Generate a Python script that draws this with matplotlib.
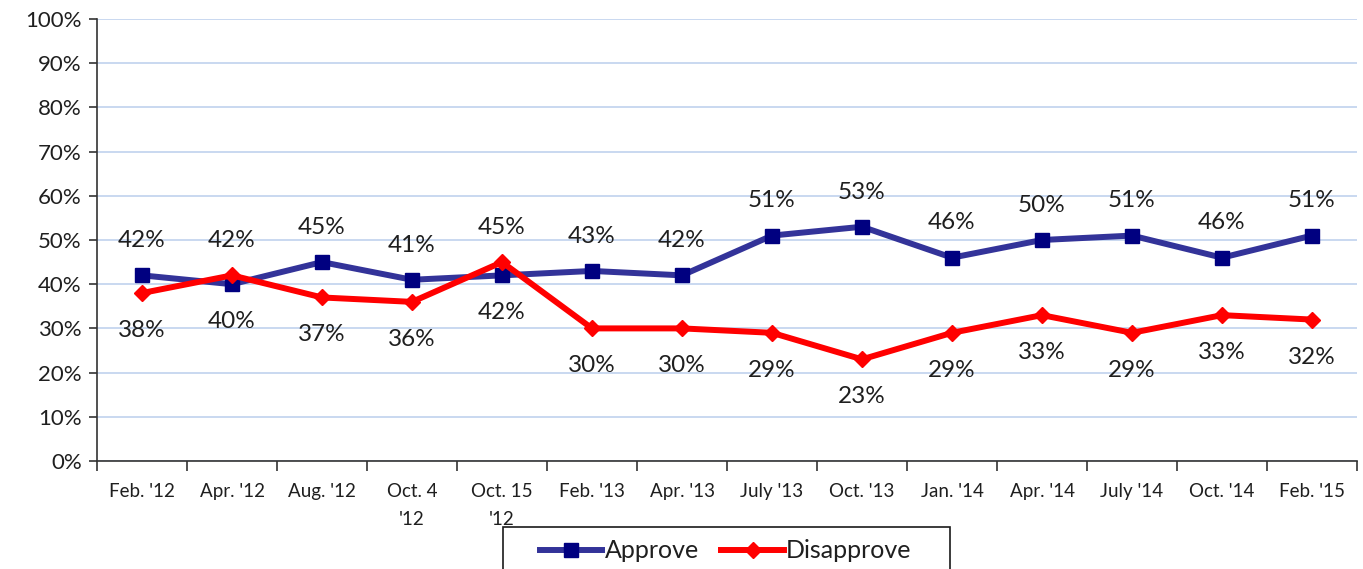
import numpy as np
import matplotlib
matplotlib.use('Agg')
import matplotlib.pyplot as plt
from matplotlib.patches import Rectangle

plt.rcParams['font.family'] = ['Lato', 'DejaVu Sans']

# data ========================================================================
periods = ["Feb. '12", "Apr. '12", "Aug. '12", "Oct. 4\n'12", "Oct. 15\n'12",
           "Feb. '13", "Apr. '13", "July '13", "Oct. '13", "Jan. '14",
           "Apr. '14", "July '14", "Oct. '14", "Feb. '15"]
approve = [42, 40, 45, 41, 42, 43, 42, 51, 53, 46, 50, 51, 46, 51]
disapprove = [38, 42, 37, 36, 45, 30, 30, 29, 23, 29, 33, 29, 33, 32]
y_ticks = [0, 10, 20, 30, 40, 50, 60, 70, 80, 90, 100]

TEXT = '#1f1f1f'
W, H = 1363, 569

fig = plt.figure(figsize=(W / 100, H / 100), dpi=100)
ax = fig.add_axes([97 / W, 1 - 461 / H, (1357 - 97) / W, (461 - 19) / H])

x = np.arange(len(periods))
ax.plot(x, approve, color='#333399', linewidth=4.3, marker='s',
        markersize=10, markerfacecolor='#000080', markeredgecolor='#000080',
        label='Approve', zorder=3)
ax.plot(x, disapprove, color='#ff0000', linewidth=4.3, marker='D',
        markersize=8.5, markerfacecolor='#ff0000', markeredgecolor='#ff0000',
        label='Disapprove', zorder=4)

# data labels: higher value above, lower value below
for i, (a, d) in enumerate(zip(approve, disapprove)):
    hi, lo = (a, d) if a >= d else (d, a)
    ax.annotate(f'{hi}%', (i, hi), xytext=(0, 25), textcoords='offset points',
                ha='center', va='center', fontsize=17.5, color=TEXT)
    ax.annotate(f'{lo}%', (i, lo), xytext=(0, -27), textcoords='offset points',
                ha='center', va='center', fontsize=17.5, color=TEXT)

ax.set_xlim(-0.5, len(periods) - 0.5)
ax.set_ylim(0, 100)
ax.set_yticks(y_ticks)
ax.set_yticklabels([f'{v}%' for v in y_ticks], fontsize=16, color=TEXT)
ax.yaxis.grid(True, color='#c9d8f0', linewidth=1.4)
ax.set_axisbelow(True)

ax.set_xticks(np.arange(-0.5, len(periods), 1))
ax.set_xticklabels([])
ax.set_xticks(x, minor=True)
ax.set_xticklabels(periods, minor=True, fontsize=13.5, color=TEXT,
                   linespacing=1.75, va='top')
ax.tick_params(axis='x', which='major', length=7, width=1.2, color='#333333')
ax.tick_params(axis='x', which='minor', length=0, pad=16)
ax.tick_params(axis='y', length=6, width=1.2, color='#333333', pad=5)

ax.spines['top'].set_visible(False)
ax.spines['right'].set_visible(False)
ax.spines['left'].set_color('#333333')
ax.spines['bottom'].set_color('#333333')
ax.spines['left'].set_linewidth(1.2)
ax.spines['bottom'].set_linewidth(1.2)

# legend box runs off the bottom edge, as in the source
fig.patches.append(Rectangle((503 / W, -0.05), (950 - 503) / W,
                             0.05 + 1 - 527 / H, transform=fig.transFigure,
                             facecolor='white', edgecolor='#1a1a1a',
                             linewidth=1.2, zorder=1))
leg = fig.legend(loc='upper left', bbox_to_anchor=(532 / W, 1 - 532 / H),
                 ncol=2, fontsize=18, frameon=False, handlelength=2.5,
                 handletextpad=0.1, columnspacing=0.9, borderpad=0.3,
                 borderaxespad=0)
leg.set_zorder(2)
for t in leg.get_texts():
    t.set_color(TEXT)

fig.savefig('out.png', dpi=100)
